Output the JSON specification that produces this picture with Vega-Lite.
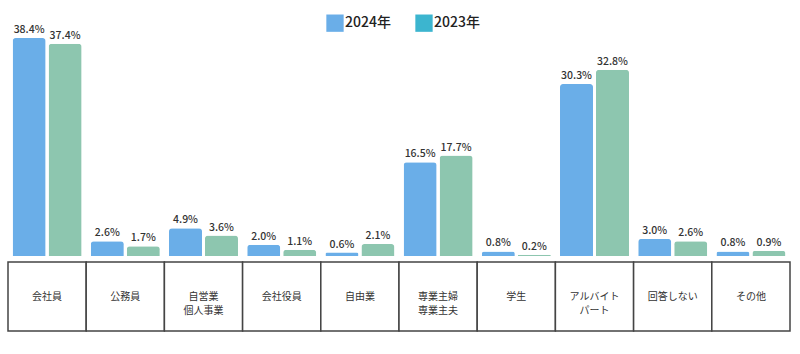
{
  "$schema": "https://vega.github.io/schema/vega-lite/v6.json",
  "padding": {"left": 7, "top": 14, "right": 0, "bottom": 0},
  "background": "white",
  "config": {
    "view": {"stroke": null},
    "font": "Noto Sans CJK JP",
    "concat": {"spacing": 5}
  },
  "data": {
    "values": [
      {"cat": "会社員", "year": "2024年", "value": 0.384},
      {"cat": "会社員", "year": "2023年", "value": 0.374},
      {"cat": "公務員", "year": "2024年", "value": 0.026},
      {"cat": "公務員", "year": "2023年", "value": 0.017},
      {"cat": "自営業\n個人事業", "year": "2024年", "value": 0.049},
      {"cat": "自営業\n個人事業", "year": "2023年", "value": 0.036},
      {"cat": "会社役員", "year": "2024年", "value": 0.020},
      {"cat": "会社役員", "year": "2023年", "value": 0.011},
      {"cat": "自由業", "year": "2024年", "value": 0.006},
      {"cat": "自由業", "year": "2023年", "value": 0.021},
      {"cat": "専業主婦\n専業主夫", "year": "2024年", "value": 0.165},
      {"cat": "専業主婦\n専業主夫", "year": "2023年", "value": 0.177},
      {"cat": "学生", "year": "2024年", "value": 0.008},
      {"cat": "学生", "year": "2023年", "value": 0.002},
      {"cat": "アルバイト\nパート", "year": "2024年", "value": 0.303},
      {"cat": "アルバイト\nパート", "year": "2023年", "value": 0.328},
      {"cat": "回答しない", "year": "2024年", "value": 0.030},
      {"cat": "回答しない", "year": "2023年", "value": 0.026},
      {"cat": "その他", "year": "2024年", "value": 0.008},
      {"cat": "その他", "year": "2023年", "value": 0.009}
    ]
  },
  "vconcat": [
    {
      "width": 782,
      "height": 227,
      "encoding": {
        "x": {"field": "cat", "type": "nominal", "sort": null, "axis": null,
              "scale": {"paddingInner": 0, "paddingOuter": 0}},
        "xOffset": {"field": "year", "type": "nominal",
                    "scale": {"domain": ["2024年", "2023年"], "paddingInner": 0.083, "paddingOuter": 0.128}},
        "y": {"field": "value", "type": "quantitative", "axis": null,
              "scale": {"domain": [0, 0.4], "nice": false}}
      },
      "layer": [
        {
          "mark": {"type": "square", "opacity": 0, "size": 1},
          "encoding": {
            "color": {"field": "year", "type": "nominal",
                      "scale": {"domain": ["2024年", "2023年"], "range": ["#6AAEE8", "#3CB5CF"]},
                      "legend": {"title": null, "orient": "none", "legendX": 318, "legendY": -15,
                                 "direction": "horizontal", "symbolType": "square", "symbolSize": 300,
                                 "symbolOpacity": 1, "symbolStrokeWidth": 0,
                                 "labelFontSize": 14, "labelFontWeight": 500, "labelColor": "#222",
                                 "labelFont": "Noto Sans CJK JP", "labelOffset": 1, "columnPadding": 24}}
          }
        },
        {
          "mark": {"type": "bar", "cornerRadiusTopLeft": 3, "cornerRadiusTopRight": 3},
          "encoding": {
            "fill": {"field": "year", "type": "nominal", "legend": null,
                     "scale": {"domain": ["2024年", "2023年"], "range": ["#6AAEE8", "#8DC6AF"]}}
          }
        },
        {
          "mark": {"type": "text", "baseline": "bottom", "dy": -3, "fontSize": 10.5, "fontWeight": 500, "color": "#333"},
          "encoding": {
            "text": {"field": "value", "type": "quantitative", "format": ".1%"}
          }
        }
      ],
      "resolve": {"scale": {"color": "independent", "fill": "independent"}, "legend": {"color": "independent"}}
    },
    {
      "width": 782,
      "height": 69,
      "encoding": {
        "x": {"field": "cat", "type": "nominal", "sort": null, "axis": null,
              "scale": {"paddingInner": 0, "paddingOuter": 0}}
      },
      "layer": [
        {
          "transform": [{"filter": "datum.year === '2024年'"}],
          "mark": {"type": "rect", "fill": "white", "stroke": "#444", "strokeWidth": 1.5}
        },
        {
          "transform": [{"filter": "datum.year === '2024年'"}],
          "mark": {"type": "text", "lineBreak": "\n", "fontSize": 10, "color": "#333", "baseline": "middle", "lineHeight": 14},
          "encoding": {"text": {"field": "cat", "type": "nominal"}}
        }
      ]
    }
  ]
}
